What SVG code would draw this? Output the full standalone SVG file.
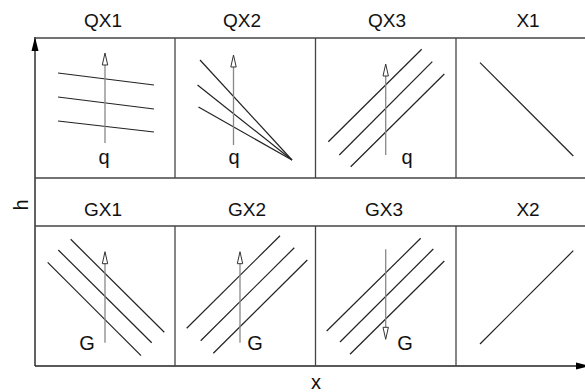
<svg xmlns="http://www.w3.org/2000/svg" width="585" height="392" viewBox="0 0 585 392">
<style>
text{font-family:"Liberation Sans",Arial,sans-serif;fill:#111}
.hd{font-size:19px;text-anchor:middle}
.lb{font-size:20px;text-anchor:middle}
.grid{stroke:#444;stroke-width:1.3;fill:none}
.ln{stroke:#222;stroke-width:1.2;fill:none}
.ar{stroke:#888;stroke-width:1.3;fill:none}
.ax{stroke:#222;stroke-width:1.4;fill:none}
</style>
<defs>
<marker id="open" markerWidth="14" markerHeight="8" refX="1" refY="4" orient="auto" markerUnits="userSpaceOnUse" viewBox="0 0 14 8">
<path d="M13,4 L1,1.3 L1,6.7 Z" fill="#fff" stroke="#333" stroke-width="1"/>
</marker>
<marker id="fill" markerWidth="16" markerHeight="10" refX="15" refY="5" orient="auto" markerUnits="userSpaceOnUse" viewBox="0 0 16 10">
<path d="M15,5 L1,1.5 L1,8.5 Z" fill="#000"/>
</marker>
</defs>
<g id="connectors">
<line class="ax" x1="35" y1="366" x2="35" y2="37" marker-end="url(#fill)"/>
<line class="ax" x1="35" y1="366" x2="590" y2="366" marker-end="url(#fill)"/>
</g>
<g id="grid">
<line class="grid" x1="35" y1="38" x2="585" y2="38"/>
<line class="grid" x1="35" y1="178" x2="585" y2="178"/>
<line class="grid" x1="35" y1="226" x2="585" y2="226"/>
<line class="grid" x1="175" y1="38" x2="175" y2="178"/>
<line class="grid" x1="315.5" y1="38" x2="315.5" y2="178"/>
<line class="grid" x1="456" y1="38" x2="456" y2="178"/>
<line class="grid" x1="175" y1="226" x2="175" y2="366"/>
<line class="grid" x1="315.5" y1="226" x2="315.5" y2="366"/>
<line class="grid" x1="456" y1="226" x2="456" y2="366"/>
</g>
<text class="lb" transform="translate(28,205) rotate(-90)">h</text>
<text class="lb" x="316" y="389">x</text>
<g id="QX1">
<text class="hd" x="103" y="27">QX1</text>
<line class="ln" x1="58" y1="73" x2="154" y2="85"/>
<line class="ln" x1="58" y1="97" x2="154" y2="109"/>
<line class="ln" x1="58" y1="121" x2="154" y2="132"/>
<line class="ar" x1="105" y1="143" x2="105" y2="65" marker-end="url(#open)"/>
<text class="lb" x="104" y="164">q</text>
</g>
<g id="QX2">
<text class="hd" x="242" y="27">QX2</text>
<line class="ln" x1="200" y1="60" x2="292" y2="160"/>
<line class="ln" x1="197.5" y1="85" x2="292" y2="160"/>
<line class="ln" x1="198.5" y1="107" x2="292" y2="160"/>
<line class="ar" x1="233.5" y1="145" x2="233.5" y2="67" marker-end="url(#open)"/>
<text class="lb" x="234" y="164">q</text>
</g>
<g id="QX3">
<text class="hd" x="387" y="27">QX3</text>
<line class="ln" x1="328.3" y1="141.7" x2="421.7" y2="49.3"/>
<line class="ln" x1="339.3" y1="155" x2="432.3" y2="61.7"/>
<line class="ln" x1="350.7" y1="166.7" x2="444.3" y2="74"/>
<line class="ar" x1="385.7" y1="155" x2="385.7" y2="76" marker-end="url(#open)"/>
<text class="lb" x="407" y="164">q</text>
</g>
<g id="X1">
<text class="hd" x="528" y="27">X1</text>
<line class="ln" x1="480" y1="62.7" x2="573.3" y2="156"/>
</g>
<g id="GX1">
<text class="hd" x="103" y="216">GX1</text>
<line class="ln" x1="70.7" y1="239.3" x2="164.3" y2="332.3"/>
<line class="ln" x1="58.3" y1="250" x2="151.7" y2="342.7"/>
<line class="ln" x1="47.7" y1="262.3" x2="141" y2="355.7"/>
<line class="ar" x1="105" y1="342.7" x2="105" y2="263.7" marker-end="url(#open)"/>
<text class="lb" x="87" y="350">G</text>
</g>
<g id="GX2">
<text class="hd" x="247" y="216">GX2</text>
<line class="ln" x1="186.7" y1="328.3" x2="280" y2="235.7"/>
<line class="ln" x1="200.7" y1="340.7" x2="294.3" y2="247.7"/>
<line class="ln" x1="213.3" y1="353.3" x2="307.3" y2="260"/>
<line class="ar" x1="240" y1="342.7" x2="240" y2="263.7" marker-end="url(#open)"/>
<text class="lb" x="255" y="350">G</text>
</g>
<g id="GX3">
<text class="hd" x="384" y="216">GX3</text>
<line class="ln" x1="326.7" y1="331" x2="420.7" y2="238.3"/>
<line class="ln" x1="340" y1="342" x2="433.3" y2="249"/>
<line class="ln" x1="350" y1="354.3" x2="444.3" y2="261"/>
<line class="ar" x1="385.7" y1="249.3" x2="385.7" y2="327.3" marker-end="url(#open)"/>
<text class="lb" x="405" y="350">G</text>
</g>
<g id="X2">
<text class="hd" x="528" y="216">X2</text>
<line class="ln" x1="480" y1="344" x2="573.3" y2="250.7"/>
</g>
</svg>
